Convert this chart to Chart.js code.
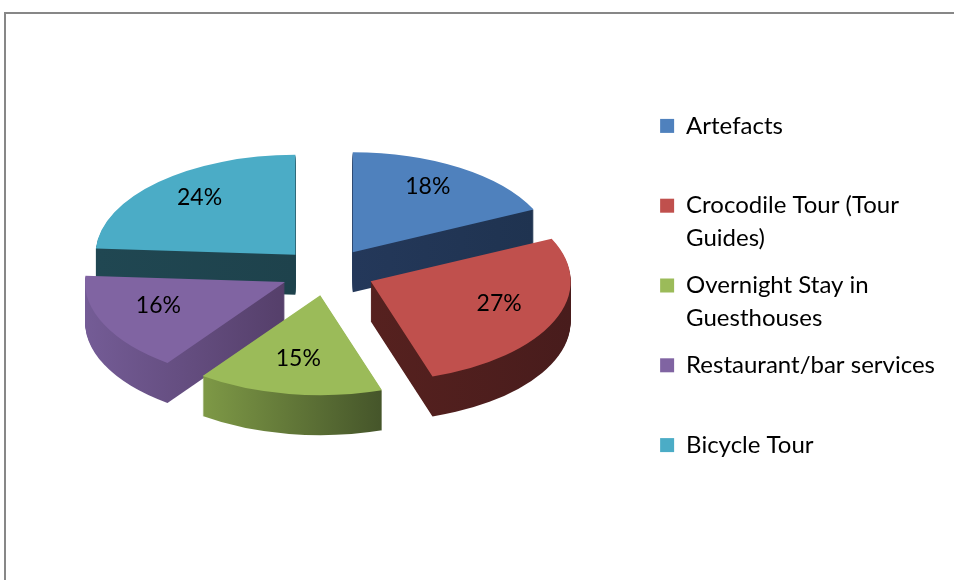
<!DOCTYPE html>
<html>
<head>
<meta charset="utf-8">
<script src="https://cdn.jsdelivr.net/npm/chart.js@4/dist/chart.umd.min.js"></script>
<style>
  html, body { margin: 0; padding: 0; background: #fff; overflow: hidden; }
  #wrap { position: relative; width: 954px; height: 580px; }
  #frame { position: absolute; left: 4px; top: 12px; width: 1200px; height: 900px; border: 2px solid #878787; box-sizing: border-box; }
  canvas { position: absolute; left: 0; top: 0; }
</style>
</head>
<body>
<div id="wrap">
  <div id="frame"></div>
  <canvas id="myChart" width="954" height="580"></canvas>
</div>
<script>
const categories = ['Artefacts', 'Crocodile Tour (Tour Guides)', 'Overnight Stay in Guesthouses', 'Restaurant/bar services', 'Bicycle Tour'];
const shares = [18, 27, 15, 16, 24];
const legendLines = [['Artefacts', ''], ['Crocodile Tour (Tour', 'Guides)'], ['Overnight Stay in', 'Guesthouses'], ['Restaurant/bar services', ''], 'Bicycle Tour'];
const topColors = ['#4f81bd', '#c0504d', '#9bbb59', '#8064a2', '#4bacc6'];
const sideColors = [['#24385a', '#1f3350'], ['#56211f', '#481c1c'], ['#7e9946', '#45552a'], ['#745c96', '#553f6a'], ['#204752', '#1e424c']];

const tilt = 0.5;     // vertical squash of the pie
const explode = 47;   // slice explosion, px
const depth = 40;     // thickness, px

const pie3d = {
  id: 'pie3d',
  beforeDatasetsDraw(chart) {
    const ctx = chart.ctx;
    const arcs = chart.getDatasetMeta(0).data;
    const cx = arcs[0].x, cy = arcs[0].y;
    const shift = arc => {
      const m = (arc.startAngle + arc.endAngle) / 2;
      return [Math.cos(m) * explode, Math.sin(m) * explode, m];
    };

    // gradient per slice across its own horizontal extent
    const grads = arcs.map((arc, i) => {
      const [dx] = shift(arc);
      let xmin = arc.x + dx, xmax = arc.x + dx;
      for (let t = 0; t <= 20; t++) {
        const a = arc.startAngle + (arc.endAngle - arc.startAngle) * t / 20;
        const px = arc.x + dx + Math.cos(a) * arc.outerRadius;
        xmin = Math.min(xmin, px); xmax = Math.max(xmax, px);
      }
      const g = ctx.createLinearGradient(xmin, 0, xmax, 0);
      g.addColorStop(0, sideColors[i][0]);
      g.addColorStop(1, sideColors[i][1]);
      return g;
    });

    ctx.save();
    ctx.translate(cx, cy);
    ctx.scale(1, tilt);
    ctx.translate(-cx, -cy);

    // side walls: stack the slice shape downwards
    for (let d = depth; d > 0; d--) {
      arcs.forEach((arc, i) => {
        const [dx, dy] = shift(arc);
        const x = arc.x + dx, y = arc.y + dy + d / tilt;
        ctx.beginPath();
        ctx.moveTo(x, y);
        ctx.arc(x, y, arc.outerRadius, arc.startAngle, arc.endAngle);
        ctx.closePath();
        ctx.fillStyle = grads[i];
        ctx.fill();
      });
    }

    // top faces, drawn by the arc elements themselves
    arcs.forEach(arc => {
      const [dx, dy] = shift(arc);
      ctx.save();
      ctx.translate(dx, dy);
      arc.draw(ctx);
      ctx.restore();
    });
    ctx.restore();

    // percentage labels
    const total = shares.reduce((a, b) => a + b, 0);
    ctx.save();
    ctx.font = '23px Lato';
    ctx.fillStyle = '#000';
    ctx.textAlign = 'center';
    ctx.textBaseline = 'middle';
    arcs.forEach((arc, i) => {
      const [dx, dy, m] = shift(arc);
      const r = arc.outerRadius * 0.7;
      const lx = arc.x + dx + Math.cos(m) * r;
      const ly = arc.y + (dy + Math.sin(m) * r) * tilt - 6;
      ctx.fillText(Math.round(shares[i] / total * 100) + '%', lx, ly);
    });
    ctx.restore();
    return false;
  }
};

new Chart(document.getElementById('myChart'), {
  type: 'pie',
  data: {
    labels: categories,
    datasets: [{
      data: shares,
      backgroundColor: topColors,
      borderWidth: 0,
      radius: 200
    }]
  },
  options: {
    responsive: false,
    animation: false,
    layout: { padding: { left: 10, right: 9, top: 52, bottom: 88 } },
    plugins: {
      tooltip: { enabled: false },
      legend: {
        position: 'right',
        align: 'center',
        title: { display: true, text: '', padding: { top: 12, bottom: 0 }, font: { size: 12, lineHeight: 1.25 } },
        labels: {
          boxWidth: 14,
          boxHeight: 14,
          padding: 15,
          color: '#000',
          font: { family: 'Lato', size: 24, lineHeight: 1.35 },
          generateLabels: () => legendLines.map((t, i) => ({
            text: t, fillStyle: topColors[i], strokeStyle: topColors[i], fontColor: '#000',
            lineWidth: 0, hidden: false, index: i
          }))
        }
      }
    }
  },
  plugins: [pie3d]
});
</script>
</body>
</html>
